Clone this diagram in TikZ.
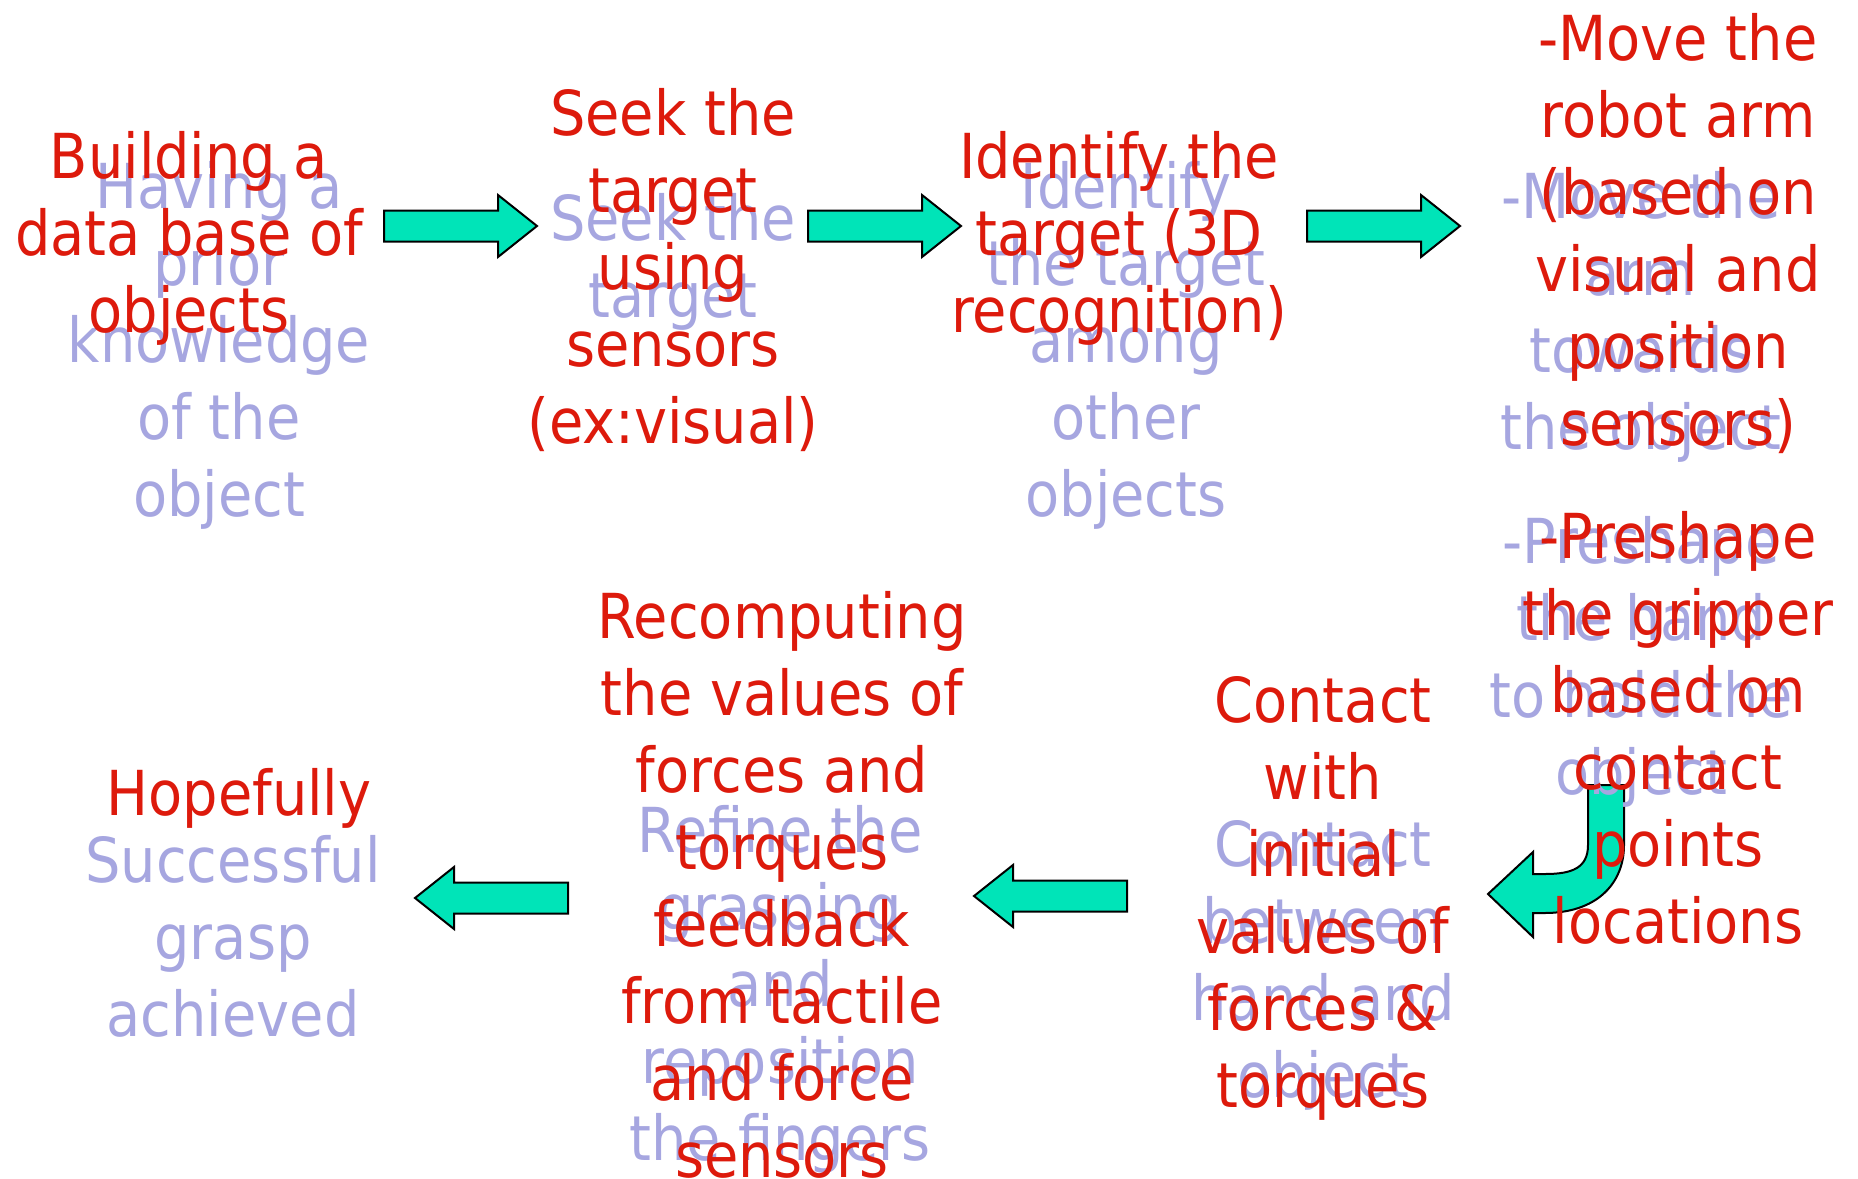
\documentclass[tikz,border=0pt]{standalone}
\usepackage{fontspec}
\setmainfont{DejaVu Sans}[FakeStretch=0.9]
\definecolor{stepred}{RGB}{221,26,12}
\definecolor{steplav}{RGB}{166,166,224}
\definecolor{arrowfill}{RGB}{0,228,184}

% one column of centred lines, 77pt apart, first baseline at (#3,#4)
\newcommand\textstack[5]{%
  \foreach \ln [count=\k from 0] in {#5} {%
    \node[#2] (#1-\k) at (#3, #4+77*\k) {\ln};}}

% straight block arrows: tail x or tip x, centre y
\newcommand\rightblock[2]{%
  \draw[blockarrow] (#1,#2-15.5) -- (#1+114,#2-15.5) -- (#1+114,#2-31)
    -- (#1+153,#2) -- (#1+114,#2+31) -- (#1+114,#2+15.5) -- (#1,#2+15.5) -- cycle;}
\newcommand\leftblock[2]{%
  \draw[blockarrow] (#1,#2) -- (#1+39,#2-31) -- (#1+39,#2-15.5)
    -- (#1+153,#2-15.5) -- (#1+153,#2+15.5) -- (#1+39,#2+15.5) -- (#1+39,#2+31) -- cycle;}

\begin{document}
\begin{tikzpicture}[x=1pt,y=-1pt,
  txt/.style={font=\fontsize{62}{77}\selectfont, anchor=base, inner sep=0pt},
  lav/.style={txt, text=steplav},
  red/.style={txt, text=stepred},
  blockarrow/.style={draw=black, line width=2pt, fill=arrowfill, line join=miter}]
\useasboundingbox (0,0) rectangle (1858,1178);

% arrows between the steps
\rightblock{384}{226}
\rightblock{808}{226}
\rightblock{1307}{226}
\leftblock{974}{896}
\leftblock{415}{898}

% bent arrow down and to the left
\draw[blockarrow] (1588,785) -- (1588,845)
  .. controls (1588,868) and (1572,874) .. (1545,874)
  -- (1533,874) -- (1533,852) -- (1488,894) -- (1533,937) -- (1533,913) -- (1545,913)
  .. controls (1595,913) and (1624,885) .. (1624,845)
  -- (1624,785) -- cycle;

% lavender step texts
\textstack{l1}{lav}{219}{208}{{Having a},{prior},{knowledge},{of the},{object}}
\textstack{l2}{lav}{673}{240}{{Seek the},{target}}
\textstack{l3}{lav}{1126}{208}{{Identify},{the target},{among},{other},{objects}}
\textstack{l4}{lav}{1641}{218}{{-Move the},{arm},{towards},{the object}}
\textstack{l5}{lav}{1641}{563}{{-Preshape},{the hand},{to hold the},{object}}
\textstack{l6}{lav}{780}{852}{{Refine the},{grasping},{and},{reposition},{the fingers}}
\textstack{l7}{lav}{1323}{866}{{Contact},{between},{hand and},{object}}
\textstack{l8}{lav}{233}{882}{{Successful},{grasp},{achieved}}

% red step texts
\textstack{r1}{red}{189}{178}{{Building a},{data base of},{objects}}
\textstack{r2}{red}{673}{135}{{Seek the},{target},{using},{sensors},{(ex:visual)}}
\textstack{r3}{red}{1119}{178}{{Identify the},{target (3D},{recognition)}}
\textstack{r4}{red}{1678}{60}{{-Move the},{robot arm},{(based on},{visual and},{position},{sensors)}}
\textstack{r5}{red}{1678}{558}{{-Preshape},{the gripper},{based on},{contact},{points},{locations}}
\textstack{r6}{red}{782}{638}{{Recomputing},{the values of},{forces and},{torques},{feedback},{from tactile},{and force},{sensors}}
\textstack{r7}{red}{1323}{722}{{Contact},{with},{initial},{values of},{forces \&},{torques}}
\textstack{r8}{red}{239}{815}{{Hopefully}}
\end{tikzpicture}
\end{document}
